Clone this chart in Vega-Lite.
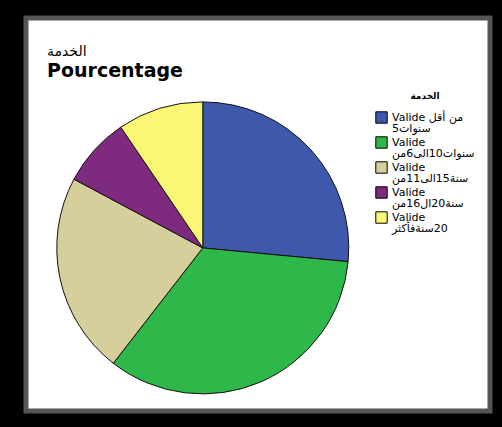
{
  "$schema": "https://vega.github.io/schema/vega-lite/v6.json",
  "width": 502,
  "height": 427,
  "autosize": {"type": "fit", "contains": "padding"},
  "padding": {"left": 26, "top": 18, "right": 12, "bottom": 16},
  "background": "black",
  "config": {
    "view": {"fill": "white", "stroke": "#555555", "strokeWidth": 5},
    "font": "DejaVu Sans"
  },
  "title": {
    "text": "الخدمة",
    "subtitle": "Pourcentage",
    "anchor": "start",
    "orient": "top",
    "offset": -63,
    "dx": 21,
    "font": "DejaVu Sans",
    "fontSize": 14,
    "fontWeight": "normal",
    "color": "black",
    "subtitleFont": "DejaVu Sans",
    "subtitleFontSize": 19,
    "subtitleFontWeight": "bold",
    "subtitleColor": "black",
    "subtitlePadding": 3
  },
  "data": {
    "values": [
      {"k": 1, "cat": "Valide من أقل\n5سنوات", "value": 26.5},
      {"k": 2, "cat": "Valide\nسنوات10الى6من", "value": 34.0},
      {"k": 3, "cat": "Valide\nسنة15الى11من", "value": 22.3},
      {"k": 4, "cat": "Valide\nسنة20ال16من", "value": 7.7},
      {"k": 5, "cat": "Valide\nسنةفأكثر‎20", "value": 9.5}
    ]
  },
  "mark": {"type": "arc", "outerRadius": 146, "stroke": "#111111", "strokeWidth": 1},
  "encoding": {
    "theta": {"field": "value", "type": "quantitative", "stack": true},
    "order": {"field": "k", "type": "quantitative"},
    "x": {"datum": 0.381, "type": "quantitative", "scale": {"domain": [0, 1]}, "axis": null},
    "y": {"datum": 0.415, "type": "quantitative", "scale": {"domain": [0, 1]}, "axis": null},
    "color": {
      "field": "cat",
      "type": "nominal",
      "title": "الخدمة",
      "scale": {
        "domain": ["Valide من أقل\n5سنوات", "Valide\nسنوات10الى6من", "Valide\nسنة15الى11من", "Valide\nسنة20ال16من", "Valide\nسنةفأكثر‎20"],
        "range": ["#3E58AC", "#2EB84A", "#D6CF9C", "#7E2A7E", "#FBF775"]
      },
      "legend": {
        "orient": "none",
        "legendX": 349,
        "legendY": 74,
        "labelExpr": "split(datum.label, '\\n')",
        "labelFont": "DejaVu Sans",
        "labelFontSize": 11,
        "labelColor": "black",
        "labelLimit": 200,
        "labelOffset": 4,
        "labelBaseline": "middle",
        "titleFont": "DejaVu Sans",
        "titleFontSize": 9,
        "titleFontWeight": "bold",
        "titleColor": "black",
        "titleAnchor": "middle",
        "titlePadding": 10,
        "symbolType": "square",
        "symbolSize": 130,
        "symbolStrokeColor": "black",
        "symbolStrokeWidth": 1,
        "symbolOpacity": 1,
        "rowPadding": 0,
        "encode": {"labels": {"update": {"lineHeight": {"value": 11.5}}}}
      }
    }
  }
}
